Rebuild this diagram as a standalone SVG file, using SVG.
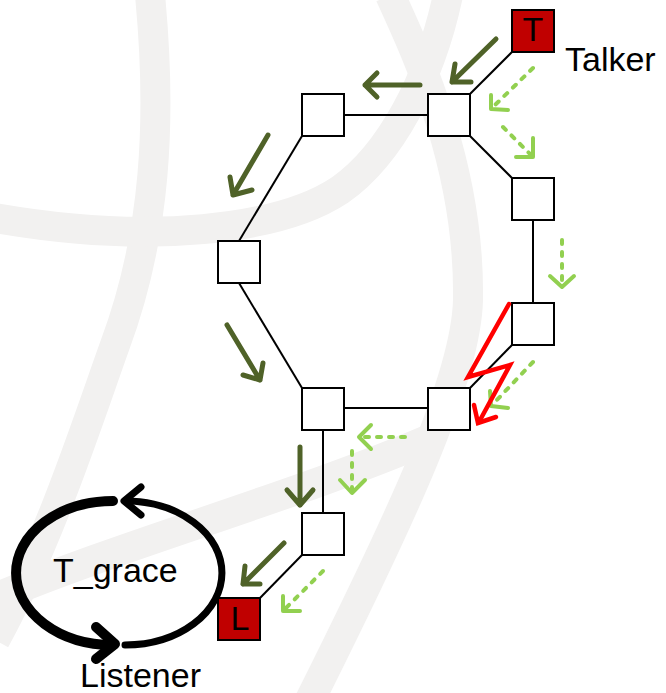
<svg xmlns="http://www.w3.org/2000/svg" width="666" height="693" viewBox="0 0 666 693">
  <style>
    .band { fill: none; stroke: #F2F1F0; stroke-width: 30; }
    .node { fill: #FFFFFF; stroke: #000000; stroke-width: 2; }
    .term { fill: #C00000; stroke: #000000; stroke-width: 2; }
    .link { fill: none; stroke: #000000; stroke-width: 2; }
    .flow { fill: none; stroke: #4F6228; stroke-width: 5; stroke-linecap: round; stroke-linejoin: round; }
    .backup { fill: none; stroke: #92D050; stroke-width: 4; stroke-linecap: round; stroke-dasharray: 4 8; }
    .backup-head { fill: none; stroke: #92D050; stroke-width: 4; stroke-linecap: round; stroke-linejoin: round; }
    .fault { fill: none; stroke: #FF0000; stroke-width: 4.5; stroke-linecap: round; stroke-linejoin: miter; }
    .cycle { fill: none; stroke: #000000; stroke-linecap: round; stroke-linejoin: round; }
    .label { font-family: "Liberation Sans", Arial, sans-serif; font-size: 34px; fill: #000000; }
  </style>

  <!-- faint globe watermark -->
  <g id="watermark">
    <path class="band" d="M150,-5 C162,120 156,235 115,345 C88,420 50,540 -5,640"/>
    <path class="band" d="M-5,218 C150,245 280,230 340,190 C390,155 430,80 448,-5"/>
    <path class="band" d="M390,-5 C420,60 470,170 468,300 C466,380 400,520 310,700"/>
    <path class="band" d="M-5,598 C120,545 300,495 432,438"/>
  </g>

  <!-- links between switches -->
  <g id="connectors">
    <line class="link" x1="512" y1="52" x2="470" y2="94"/>
    <line class="link" x1="428" y1="115" x2="344" y2="115"/>
    <line class="link" x1="302" y1="136" x2="239" y2="241"/>
    <line class="link" x1="239" y1="283" x2="302" y2="388"/>
    <line class="link" x1="470" y1="136" x2="512" y2="178"/>
    <line class="link" x1="533" y1="220" x2="533" y2="303"/>
    <line class="link" x1="512" y1="345" x2="470" y2="388"/>
    <line class="link" x1="428" y1="408" x2="344" y2="408"/>
    <line class="link" x1="323" y1="430" x2="323" y2="513"/>
    <line class="link" x1="302" y1="555" x2="260" y2="598"/>
  </g>

  <!-- switches -->
  <g id="sw-a"><rect class="node" x="428" y="94" width="42" height="42"/></g>
  <g id="sw-b"><rect class="node" x="302" y="94" width="42" height="42"/></g>
  <g id="sw-c"><rect class="node" x="218" y="241" width="42" height="42"/></g>
  <g id="sw-d"><rect class="node" x="512" y="178" width="42" height="42"/></g>
  <g id="sw-e"><rect class="node" x="512" y="303" width="42" height="42"/></g>
  <g id="sw-f"><rect class="node" x="428" y="388" width="42" height="42"/></g>
  <g id="sw-g"><rect class="node" x="302" y="388" width="42" height="42"/></g>
  <g id="sw-h"><rect class="node" x="302" y="513" width="42" height="42"/></g>

  <!-- end stations -->
  <g id="talker">
    <rect class="term" x="512" y="10" width="42" height="42"/>
    <text class="label" x="533" y="41" text-anchor="middle">T</text>
    <text class="label" x="565" y="71">Talker</text>
  </g>
  <g id="listener">
    <rect class="term" x="218" y="598" width="42" height="42"/>
    <text class="label" x="240" y="630" text-anchor="middle" font-size="32">L</text>
    <text class="label" x="80" y="687">Listener</text>
  </g>

  <!-- primary path -->
  <g id="primary-flow">
    <path class="flow" d="M496,39 L452,82 M455,64 L452,82 L471,82"/>
    <path class="flow" d="M420,85 L365,85 M377,73 L365,85 L377,97"/>
    <path class="flow" d="M268,135 L233,195 M230,177 L233,195 L252,190"/>
    <path class="flow" d="M227,325 L260,380 M263,363 L260,380 L243,375"/>
    <path class="flow" d="M300,447 L300,505 M287,490 L300,505 L313,490"/>
    <path class="flow" d="M284,543 L243,584 M245,566 L243,584 L260,584"/>
  </g>

  <!-- redundant path -->
  <g id="backup-flow">
    <path class="backup" d="M533,68 L494,106"/>
    <path class="backup-head" d="M491,95 L491,109 L508,110"/>
    <path class="backup" d="M503,127 L530,154"/>
    <path class="backup-head" d="M533,138 L533,157 L516,157"/>
    <path class="backup" d="M562,240 L562,283"/>
    <path class="backup-head" d="M550,276 L562,287 L574,276"/>
    <path class="backup" d="M533,362 L494,403"/>
    <path class="backup-head" d="M490,391 L491,406 L508,408"/>
    <path class="backup" d="M405,437 L362,437"/>
    <path class="backup-head" d="M371,425 L359,437 L371,449"/>
    <path class="backup" d="M352,451 L352,490"/>
    <path class="backup-head" d="M340,480 L352,493 L365,480"/>
    <path class="backup" d="M323,571 L286,608"/>
    <path class="backup-head" d="M283,596 L283,611 L300,611"/>
  </g>

  <!-- link failure -->
  <g id="failure">
    <polyline class="fault" points="509,304 468,377 510,365 479,422"/>
    <polyline class="fault" points="474,405 478,423 496,417"/>
  </g>

  <!-- grace timer cycle -->
  <g id="grace-cycle">
    <path class="cycle" stroke-width="10" d="M113,501 A97 72 0 0 0 113,645"/>
    <path class="cycle" stroke-width="10" d="M96,627 L115,644 L96,659"/>
    <path class="cycle" stroke-width="7" d="M125,501 A97 72 0 0 1 125,645"/>
    <path class="cycle" stroke-width="7" d="M141,487 L124,501 L141,515"/>
    <text class="label" x="53" y="582" font-size="35">T_grace</text>
  </g>
</svg>
